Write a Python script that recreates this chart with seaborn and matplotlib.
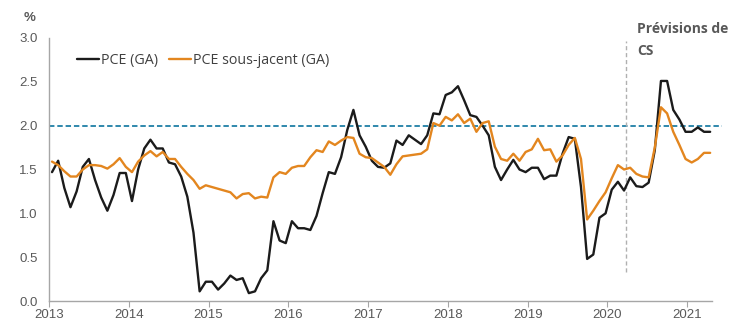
import numpy as np
import pandas as pd
import matplotlib
matplotlib.use("Agg")
import matplotlib.pyplot as plt
import seaborn as sns
from matplotlib.lines import Line2D

# ---- data -------------------------------------------------------------
pce = [1.47, 1.60, 1.29, 1.07, 1.25, 1.53, 1.62, 1.38, 1.18, 1.03,
       1.21, 1.46, 1.46, 1.14, 1.50, 1.74, 1.84, 1.74, 1.74, 1.58,
       1.56, 1.42, 1.19, 0.78, 0.11, 0.22, 0.22, 0.13, 0.20, 0.29,
       0.24, 0.26, 0.09, 0.11, 0.26, 0.35, 0.91, 0.69, 0.66, 0.91,
       0.83, 0.83, 0.81, 0.97, 1.23, 1.47, 1.45, 1.64, 1.95, 2.18,
       1.89, 1.76, 1.60, 1.53, 1.52, 1.57, 1.83, 1.78, 1.89, 1.84,
       1.79, 1.89, 2.14, 2.13, 2.35, 2.38, 2.45, 2.29, 2.12, 2.10,
       2.00, 1.89, 1.53, 1.38, 1.50, 1.61, 1.50, 1.47, 1.52, 1.52,
       1.39, 1.43, 1.43, 1.68, 1.87, 1.85, 1.30, 0.48, 0.53, 0.95,
       1.00, 1.27, 1.36, 1.26, 1.41, 1.31, 1.30, 1.35, 1.72, 2.51,
       2.51, 2.18, 2.07, 1.93, 1.93, 1.98, 1.93, 1.93]
core = [1.59, 1.55, 1.48, 1.42, 1.42, 1.50, 1.55, 1.55, 1.54, 1.51,
        1.56, 1.63, 1.53, 1.47, 1.59, 1.66, 1.71, 1.65, 1.70, 1.62,
        1.62, 1.53, 1.45, 1.38, 1.28, 1.32, 1.30, 1.28, 1.26, 1.24,
        1.17, 1.22, 1.23, 1.17, 1.19, 1.18, 1.41, 1.47, 1.45, 1.52,
        1.54, 1.54, 1.64, 1.72, 1.70, 1.82, 1.78, 1.83, 1.87, 1.86,
        1.68, 1.64, 1.63, 1.58, 1.53, 1.44, 1.56, 1.65, 1.66, 1.67,
        1.68, 1.73, 2.03, 2.00, 2.10, 2.06, 2.13, 2.03, 2.08, 1.93,
        2.03, 2.05, 1.76, 1.62, 1.60, 1.68, 1.60, 1.70, 1.73, 1.85,
        1.72, 1.73, 1.59, 1.66, 1.78, 1.86, 1.62, 0.93, 1.03, 1.14,
        1.24, 1.40, 1.55, 1.50, 1.52, 1.45, 1.42, 1.41, 1.75, 2.21,
        2.14, 1.93, 1.78, 1.62, 1.58, 1.62, 1.69, 1.69]
period = list(range(len(pce)))
year_labels = ["2013", "2014", "2015", "2016", "2017", "2018", "2019", "2020", "2021"]
y_ticks = [0.0, 0.5, 1.0, 1.5, 2.0, 2.5, 3.0]
target = 2.0
forecast_start = 93.3
series_names = ["PCE (GA)", "PCE sous-jacent (GA)"]

df = pd.DataFrame({
    "period": period * 2,
    "value": pce + core,
    "series": [series_names[0]] * len(pce) + [series_names[1]] * len(core),
})

# ---- figure -----------------------------------------------------------
sns.set_theme(style="white")
plt.rcParams["font.family"] = ["Liberation Sans", "DejaVu Sans"]

fig = plt.figure(figsize=(7.38, 3.34), dpi=100)
ax = fig.add_axes([49 / 738, 33 / 334, 663 / 738, 263 / 334])

palette = {series_names[0]: "#1b1b1b", series_names[1]: "#E3861F"}
sns.lineplot(data=df, x="period", y="value", hue="series", palette=palette,
             linewidth=1.7, ax=ax, legend=False)

ax.axhline(target, xmin=0, xmax=1.015, color="#1f7fa6", linestyle=(0, (3.0, 1.6)),
           linewidth=1.3, clip_on=False, zorder=1)
ax.vlines(forecast_start, 0.33, 2.97, color="#b0b0b0", linestyle=(0, (3, 2)),
          linewidth=1.0, zorder=1)

ax.set_xlim(-0.49, 107.3)
ax.set_ylim(0, 3.0)
ax.set_yticks(y_ticks)
ax.set_yticklabels([f"{v:.1f}" for v in y_ticks])
xt = [-0.49 + 12.97 * k for k in range(len(year_labels))]
ax.set_xticks(xt)
ax.set_xticklabels(year_labels)
ax.set_xlabel("")
ax.set_ylabel("")

for s in ["top", "right"]:
    ax.spines[s].set_visible(False)
for s in ["left", "bottom"]:
    ax.spines[s].set_color("#a6a6a6")
    ax.spines[s].set_linewidth(1.0)

ax.tick_params(axis="x", which="both", bottom=True, length=4, width=0.8,
               color="#a6a6a6", labelsize=9.5, labelcolor="#595959", pad=2)
ax.tick_params(axis="y", which="both", left=False, length=0, labelsize=9.5,
               labelcolor="#595959", pad=8)

fig.text(30 / 738, 1 - 18 / 334, "%", fontsize=9.5, color="#595959",
         fontweight="bold", ha="center", va="center")

handles = [Line2D([], [], color=palette[n], linewidth=1.7) for n in series_names]
leg = ax.legend(handles, series_names, ncol=2, frameon=False,
                loc="upper left", bbox_to_anchor=(0.034, 0.966), borderaxespad=0,
                handlelength=1.5, handletextpad=0.15, columnspacing=0.8,
                prop={"family": "Open Sans", "size": 10.3})
for t in leg.get_texts():
    t.set_color("#404040")

fig.text(637 / 738, 1 - 40 / 334, "Prévisions de\nCS", fontsize=10,
         color="#595959", fontweight="bold", family="Open Sans",
         ha="left", va="center", linespacing=1.8)

fig.savefig("out.png", dpi=100)
